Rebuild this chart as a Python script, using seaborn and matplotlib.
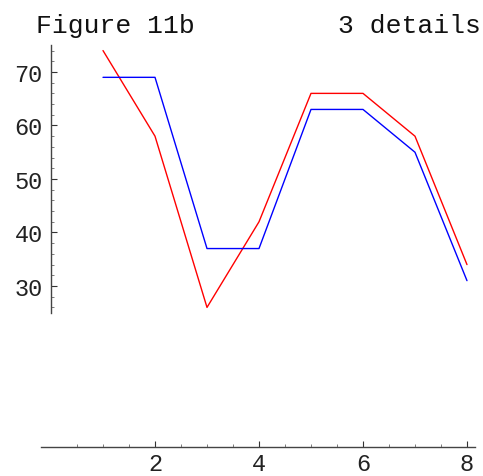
import numpy as np
import pandas as pd
import matplotlib
matplotlib.use("Agg")
import matplotlib.pyplot as plt
from matplotlib.ticker import FixedLocator
import seaborn as sns

sns.set_style("white")
plt.rcParams["font.family"] = ["Liberation Mono", "DejaVu Sans Mono"]

# Series values at x = 1..8
x_vals = [1, 2, 3, 4, 5, 6, 7, 8]
red_vals = [74, 58, 26, 42, 66, 66, 58, 34]
blue_vals = [69, 69, 37, 37, 63, 63, 55, 31]

x_ticks = [2, 4, 6, 8]
y_ticks = [30, 40, 50, 60, 70]

title_left = "Figure 11b"
title_right = "3 details"

df = pd.DataFrame({
    "x": x_vals * 2,
    "y": red_vals + blue_vals,
    "series": ["red"] * len(x_vals) + ["blue"] * len(x_vals),
})

fig = plt.figure(figsize=(4.83, 4.77), dpi=100)
ax = fig.add_axes([0, 0, 1, 1])
ax.set_facecolor("white")

sns.lineplot(data=df, x="x", y="y", hue="series",
             palette={"red": "#ff0000", "blue": "#0000ff"},
             linewidth=1.0, legend=False, ax=ax, sort=False)

ax.set_xlim(-0.981, 8.308)
ax.set_ylim(-5.51, 83.64)

# Axes crossing at the origin
for side in ("top", "right"):
    ax.spines[side].set_visible(False)
ax.spines["left"].set_position(("data", 0))
ax.spines["bottom"].set_position(("data", 0))
ax.spines["left"].set_bounds(25, 75)
ax.spines["bottom"].set_bounds(-0.2, 8.15)
for side in ("left", "bottom"):
    ax.spines[side].set_color("#444444")
    ax.spines[side].set_linewidth(1.0)

ax.xaxis.set_major_locator(FixedLocator(x_ticks))
ax.xaxis.set_minor_locator(FixedLocator([v / 2 for v in range(1, 17) if v % 4 != 0]))
ax.yaxis.set_major_locator(FixedLocator(y_ticks))
ax.yaxis.set_minor_locator(FixedLocator([v for v in range(26, 76, 2) if v % 10 != 0]))

ax.tick_params(axis="both", which="both", bottom=True, left=True,
               top=False, right=False)
ax.tick_params(axis="both", which="major", direction="in", length=4, width=0.8,
               color="#333333", labelsize=17, labelcolor="#222222")
ax.tick_params(axis="both", which="minor", direction="in", length=2.5, width=0.6,
               color="#666666")
ax.tick_params(axis="y", which="major", pad=6)
ax.tick_params(axis="x", which="major", pad=4)
ax.set_xticklabels([str(v) for v in x_ticks])
ax.set_yticklabels([str(v) for v in y_ticks])
ax.set_xlabel("")
ax.set_ylabel("")

fig.text(36 / 483, 1 - 26 / 477, title_left, ha="left", va="center",
         fontsize=19, color="#111111")
fig.text(481 / 483, 1 - 26 / 477, title_right, ha="right", va="center",
         fontsize=19, color="#111111")

fig.savefig("out.png", dpi=100, facecolor="white")
